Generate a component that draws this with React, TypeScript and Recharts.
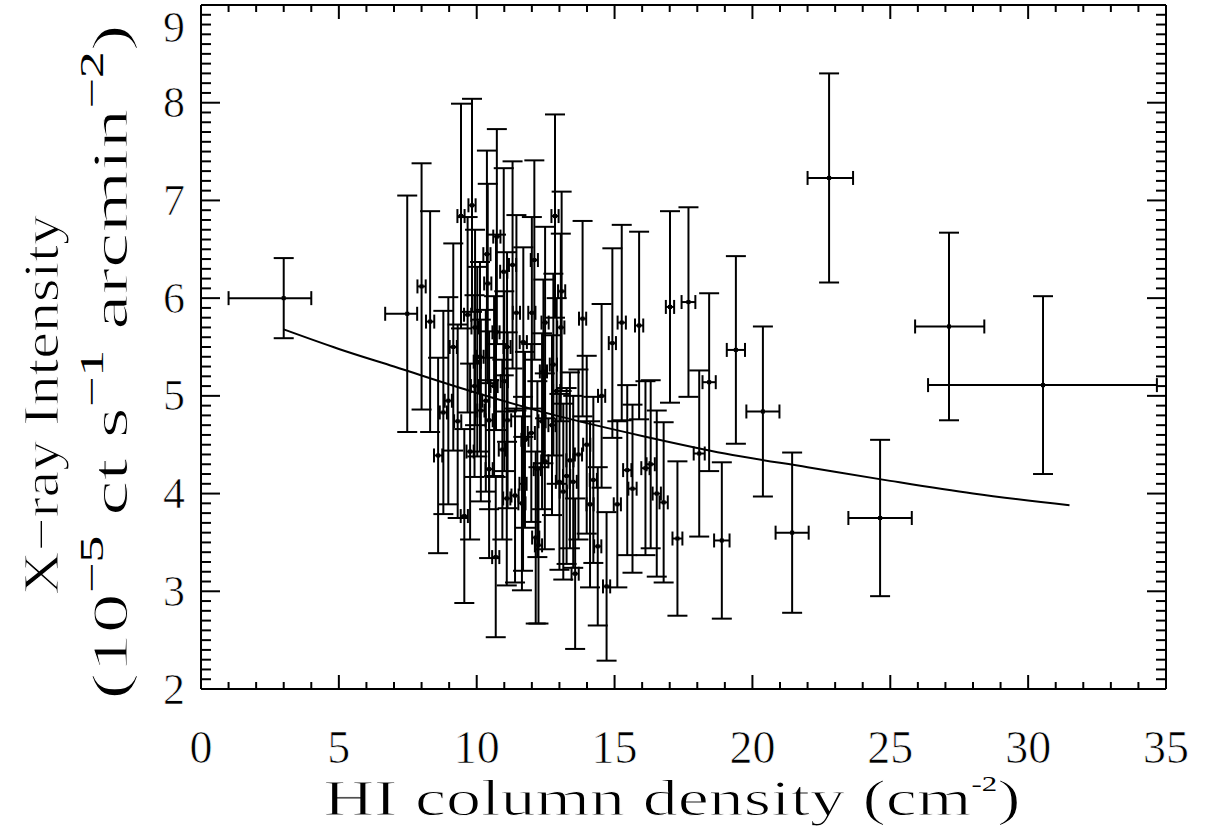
import React from "react";
import { ComposedChart, Scatter, Line, XAxis, YAxis, ErrorBar } from "recharts";

// HI column density of each region
const hiColumn = [
  3.0, 7.48, 8.0, 8.31, 8.6, 8.79, 8.97, 9.15, 9.31, 9.43, 9.55, 9.67, 9.76, 9.83,
  9.92, 9.94, 10.02, 10.12, 10.15, 10.33, 10.37, 10.4, 10.45, 10.45, 10.63, 10.69, 10.7, 10.73,
  10.93, 10.98, 11.0, 11.09, 11.1, 11.12, 11.3, 11.39, 11.44, 11.64, 11.68, 11.69, 11.75, 11.98,
  12.0, 12.09, 12.14, 12.24, 12.2, 12.37, 12.42, 12.47, 12.48, 12.73, 12.78, 12.84, 12.9, 13.0,
  13.05, 13.08, 13.14, 13.26, 13.38, 13.5, 13.57, 13.69, 13.84, 13.99, 14.11, 14.23, 14.39, 14.53,
  14.71, 14.92, 15.1, 15.26, 15.46, 15.65, 15.89, 16.12, 16.31, 16.53, 16.78, 17.01, 17.28, 17.68,
  18.07, 18.43, 18.89, 19.4, 20.38, 21.44, 22.78, 24.63, 27.13, 30.54,
];
// X-ray intensity of each region
const xrayIntensity = [
  6.0, 5.84, 6.12, 5.76, 4.39, 4.83, 4.95, 5.5, 4.74, 6.84, 3.77, 5.83, 4.43, 6.95,
  5.1, 5.7, 5.35, 5.4, 4.85, 4.95, 6.45, 6.15, 4.75, 4.25, 5.1, 3.35, 5.65, 6.63,
  4.45, 6.27, 5.15, 3.95, 5.5, 4.75, 6.34, 3.98, 5.85, 3.9, 4.1, 5.55, 4.55, 4.62,
  5.85, 6.39, 3.55, 3.47, 4.25, 4.74, 5.25, 4.33, 5.75, 4.7, 5.32, 6.84, 5.05, 4.12,
  5.7, 6.07, 4.02, 4.18, 4.34, 4.12, 3.18, 4.4, 5.79, 4.5, 3.89, 4.14, 3.46, 5.0,
  3.05, 5.54, 3.89, 5.75, 4.24, 4.05, 5.72, 4.26, 4.3, 4.0, 3.91, 5.91, 3.54, 5.96,
  4.41, 5.14, 3.52, 5.47, 4.84, 3.6, 7.23, 3.75, 5.71, 5.11,
];
// 1-sigma intensity errors
const intensityErr = [
  0.41, 1.21, 1.26, 1.13, 1.0, 1.04, 1.06, 1.06, 0.99, 1.15, 0.89, 1.0, 0.9, 1.09,
  0.93, 1.0, 0.97, 0.97, 0.93, 0.93, 1.06, 1.02, 0.91, 0.91, 0.92, 0.82, 1.0, 1.1,
  0.92, 1.06, 0.92, 0.89, 0.97, 0.9, 1.06, 0.89, 1.0, 0.89, 0.89, 0.97, 0.9, 0.91,
  0.98, 1.02, 0.88, 0.8, 0.9, 0.9, 0.94, 0.9, 0.98, 0.92, 0.93, 1.04, 0.95, 0.9,
  0.96, 1.02, 0.9, 0.9, 0.9, 0.88, 0.77, 0.87, 1.0, 0.91, 0.85, 0.85, 0.81, 0.94,
  0.76, 0.97, 0.85, 1.0, 0.87, 0.86, 0.96, 0.89, 0.86, 0.85, 0.82, 0.98, 0.79, 0.97,
  0.85, 0.91, 0.8, 0.96, 0.87, 0.82, 1.07, 0.8, 0.96, 0.91,
];
// column-density bin half widths (low side, high side)
const columnErrLow = [
  2.0, 0.8, 0.15, 0.15, 0.15, 0.13, 0.13, 0.13, 0.13, 0.13, 0.13, 0.13, 0.13, 0.13,
  0.13, 0.13, 0.13, 0.13, 0.13, 0.13, 0.13, 0.13, 0.13, 0.13, 0.13, 0.13, 0.13, 0.13,
  0.13, 0.13, 0.13, 0.13, 0.13, 0.13, 0.13, 0.13, 0.13, 0.13, 0.13, 0.13, 0.13, 0.13,
  0.13, 0.13, 0.13, 0.13, 0.13, 0.13, 0.13, 0.13, 0.13, 0.13, 0.13, 0.13, 0.13, 0.13,
  0.13, 0.13, 0.13, 0.13, 0.13, 0.13, 0.13, 0.13, 0.13, 0.13, 0.13, 0.13, 0.13, 0.13,
  0.13, 0.13, 0.13, 0.15, 0.15, 0.15, 0.15, 0.15, 0.15, 0.15, 0.15, 0.15, 0.18, 0.25,
  0.2, 0.24, 0.28, 0.33, 0.6, 0.6, 0.78, 1.15, 1.23, 4.17,
];
const columnErrHigh = [
  1.0, 0.36, 0.15, 0.15, 0.15, 0.13, 0.13, 0.13, 0.13, 0.13, 0.13, 0.13, 0.13, 0.13,
  0.13, 0.13, 0.13, 0.13, 0.13, 0.13, 0.13, 0.13, 0.13, 0.13, 0.13, 0.13, 0.13, 0.13,
  0.13, 0.13, 0.13, 0.13, 0.13, 0.13, 0.13, 0.13, 0.13, 0.13, 0.13, 0.13, 0.13, 0.13,
  0.13, 0.13, 0.13, 0.13, 0.13, 0.13, 0.13, 0.13, 0.13, 0.13, 0.13, 0.13, 0.13, 0.13,
  0.13, 0.13, 0.13, 0.13, 0.13, 0.13, 0.13, 0.13, 0.13, 0.13, 0.13, 0.13, 0.13, 0.13,
  0.13, 0.13, 0.13, 0.15, 0.15, 0.15, 0.15, 0.15, 0.15, 0.15, 0.15, 0.15, 0.18, 0.25,
  0.2, 0.24, 0.28, 0.33, 0.6, 0.6, 0.87, 1.15, 1.28, 4.13,
];

// absorption model curve
const fitColumn = [3, 5, 7, 10, 13, 16, 19, 22, 25, 28, 31.5];
const fitIntensity = [5.68, 5.48, 5.3, 5.03, 4.79, 4.59, 4.41, 4.27, 4.13, 4.0, 3.88];

// axis ticks
const xMajorTicks = [0, 5, 10, 15, 20, 25, 30, 35];
const yMajorTicks = [2, 3, 4, 5, 6, 7, 8, 9];
const xAllTicks = Array.from({ length: 36 }, (_, i) => i);
const yAllTicks = Array.from({ length: 71 }, (_, i) => Math.round((2 + i * 0.1) * 10) / 10);

const points = hiColumn.map((x, i) => ({
  x,
  y: xrayIntensity[i],
  ey: intensityErr[i],
  ex: [columnErrLow[i], columnErrHigh[i]],
}));
const fit = fitColumn.map((x, i) => ({ x, fy: fitIntensity[i] }));

const FONT = "'Liberation Serif', 'DejaVu Serif', serif";
const INK = "#000";
// thin white outline painted over the glyphs to mimic the light stroke font
const THIN = { stroke: "#fff", strokeWidth: 1.0, paintOrder: "normal" } as any;
const NOTHIN = { stroke: "none" } as any;

const isMajorX = (v: number) => xMajorTicks.includes(v);
const isMajorY = (v: number) => yMajorTicks.some((t) => Math.abs(t - v) < 1e-6);

const BottomTick = (p: any) => {
  const v = p.payload.value;
  const major = isMajorX(v);
  return (
    <g>
      <line x1={p.x} x2={p.x} y1={p.y} y2={p.y - (major ? 14 : 7)} stroke={INK} strokeWidth={2} />
      {major && (
        <text x={p.x} y={p.y + 58} textAnchor="middle" dominantBaseline="central"
          fontFamily={FONT} fontSize={46} fill={INK} style={{ ...THIN, strokeWidth: 0.7 }}>{v}</text>
      )}
    </g>
  );
};
const TopTick = (p: any) => {
  const major = isMajorX(p.payload.value);
  return <line x1={p.x} x2={p.x} y1={p.y} y2={p.y + (major ? 14 : 7)} stroke={INK} strokeWidth={2} />;
};
const LeftTick = (p: any) => {
  const v = p.payload.value;
  const major = isMajorY(v);
  return (
    <g>
      <line x1={p.x} x2={p.x + (major ? 19 : 10)} y1={p.y} y2={p.y} stroke={INK} strokeWidth={2} />
      {major && (
        <text x={p.x - 16} y={Math.max(p.y, 27)} textAnchor="end" dominantBaseline="central"
          fontFamily={FONT} fontSize={44} fill={INK} style={{ ...THIN, strokeWidth: 0.7 }}>{Math.round(v)}</text>
      )}
    </g>
  );
};
const RightTick = (p: any) => {
  const major = isMajorY(p.payload.value);
  return <line x1={p.x} x2={p.x - (major ? 19 : 10)} y1={p.y} y2={p.y} stroke={INK} strokeWidth={2} />;
};

const Dot = (p: any) => <rect x={p.cx - 2} y={p.cy - 2} width={4} height={4} fill={INK} />;

const XTitle = () => (
  <text x={672} y={815} textAnchor="middle" fontFamily={FONT} fontSize={50} fill={INK}
    textLength={697} lengthAdjust="spacingAndGlyphs" style={THIN}>
    HI column density (cm<tspan fontSize={22} dy={-24} style={NOTHIN}>-2</tspan><tspan dy={24}>)</tspan>
  </text>
);
const YTitle = () => (
  <g>
    <text transform="translate(58,405) rotate(-90)" textAnchor="middle" fontFamily={FONT}
      fontSize={50} fill={INK} textLength={380} lengthAdjust="spacingAndGlyphs" style={THIN}>
      X−ray Intensity
    </text>
    <text transform="translate(127,362) rotate(-90)" textAnchor="middle" fontFamily={FONT}
      fontSize={50} fill={INK} textLength={675} lengthAdjust="spacingAndGlyphs" style={THIN}>
      (10<tspan fontSize={34} dy={-24} style={NOTHIN}>−5</tspan>
      <tspan dy={24}> ct s</tspan>
      <tspan fontSize={34} dy={-24} style={NOTHIN}>−1</tspan>
      <tspan dy={24}> arcmin</tspan>
      <tspan fontSize={34} dy={-24} style={NOTHIN}>−2</tspan>
      <tspan dy={24}>)</tspan>
    </text>
  </g>
);

export default function App() {
  return (
    <div style={{ position: "absolute", left: 0, top: 0, width: 1206, height: 837, background: "#fff" }}>
      <ComposedChart width={1206} height={837} margin={{ top: 0, right: 35, bottom: 88, left: 121 }}>
        <XAxis xAxisId="b" orientation="bottom" type="number" dataKey="x" domain={[0, 35]}
          allowDataOverflow ticks={xAllTicks} interval={0} tickSize={0} tickMargin={0}
          height={60} axisLine={{ stroke: INK, strokeWidth: 2 }} tickLine={false} tick={<BottomTick />}
          label={{ content: () => <XTitle /> }} />
        <XAxis xAxisId="t" orientation="top" type="number" dataKey="x" domain={[0, 35]}
          allowDataOverflow ticks={xAllTicks} interval={0} tickSize={0} tickMargin={0}
          height={5} axisLine={{ stroke: INK, strokeWidth: 2 }} tickLine={false} tick={<TopTick />} />
        <YAxis yAxisId="l" orientation="left" type="number" domain={[2, 9]} allowDataOverflow
          ticks={yAllTicks} interval={0} tickSize={0} tickMargin={0} width={80}
          axisLine={{ stroke: INK, strokeWidth: 2 }} tickLine={false} tick={<LeftTick />}
          label={{ content: () => <YTitle /> }} />
        <YAxis yAxisId="r" orientation="right" type="number" domain={[2, 9]} allowDataOverflow
          ticks={yAllTicks} interval={0} tickSize={0} tickMargin={0} width={5}
          axisLine={{ stroke: INK, strokeWidth: 2 }} tickLine={false} tick={<RightTick />} />
        <Scatter xAxisId="b" yAxisId="l" data={points} dataKey="y" shape={<Dot />} isAnimationActive={false}>
          <ErrorBar dataKey="ey" direction="y" width={10} stroke={INK} strokeWidth={2} isAnimationActive={false} />
          <ErrorBar dataKey="ex" direction="x" width={7} stroke={INK} strokeWidth={2} isAnimationActive={false} />
        </Scatter>
        <Line xAxisId="b" yAxisId="l" data={fit} dataKey="fy" type="monotone" dot={false}
          stroke={INK} strokeWidth={2} isAnimationActive={false} />
      </ComposedChart>
    </div>
  );
}
